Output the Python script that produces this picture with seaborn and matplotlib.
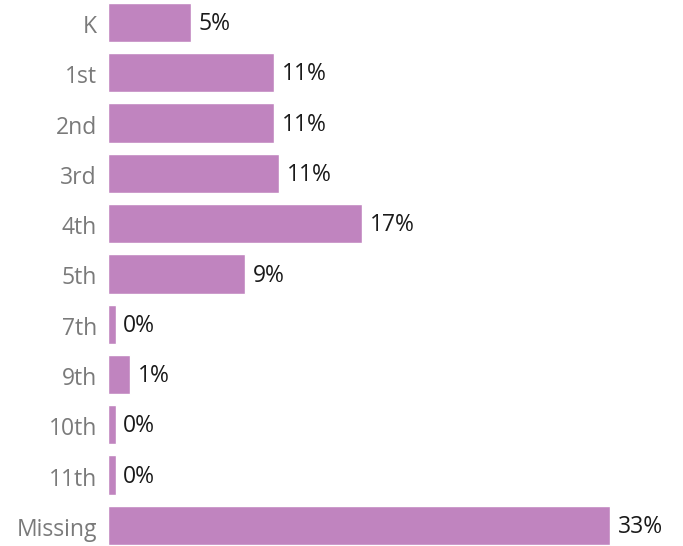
import matplotlib
matplotlib.use("Agg")
import matplotlib.pyplot as plt
import matplotlib.transforms as mtransforms
import seaborn as sns
import pandas as pd

grades = ["K", "1st", "2nd", "3rd", "4th", "5th", "7th", "9th", "10th", "11th", "Missing"]
shares = [5.45, 10.9, 10.9, 11.25, 16.7, 9.0, 0.5, 1.45, 0.5, 0.5, 33.0]
labels = ["5%", "11%", "11%", "11%", "17%", "9%", "0%", "1%", "0%", "0%", "33%"]

df = pd.DataFrame({"grade": grades, "share": shares})

sns.set_theme(style="white")
plt.rcParams["font.family"] = ["Open Sans", "DejaVu Sans"]

fig = plt.figure(figsize=(6.83, 5.46), dpi=100)
ax = fig.add_axes([108 / 683, 0, 575 / 683, 1])
sns.barplot(data=df, x="share", y="grade", orient="h", color="#C084BF",
            saturation=1, width=0.78, ax=ax)
ax.set_xlim(0, 33 * 575 / 502)
ax.set_ylim(10.41, -0.447)
for patch, lab in zip(ax.patches, labels):
    ax.annotate(lab, (patch.get_x() + patch.get_width(), patch.get_y() + patch.get_height() / 2),
                xytext=(5.5, -1.2), textcoords="offset points", ha="left", va="center",
                fontsize=16.5, color="#1a1a1a")
shift = mtransforms.ScaledTranslation(0, -1.5 / 100, fig.dpi_scale_trans)
ax.set_xlabel("")
ax.set_ylabel("")
ax.set_xticks([])
ax.tick_params(axis="y", length=0, pad=8, labelsize=16.5, labelcolor="#7a7a7a")
for t in ax.get_yticklabels():
    t.set_transform(t.get_transform() + shift)
for s in ax.spines.values():
    s.set_visible(False)
fig.savefig("out.png", dpi=100)
